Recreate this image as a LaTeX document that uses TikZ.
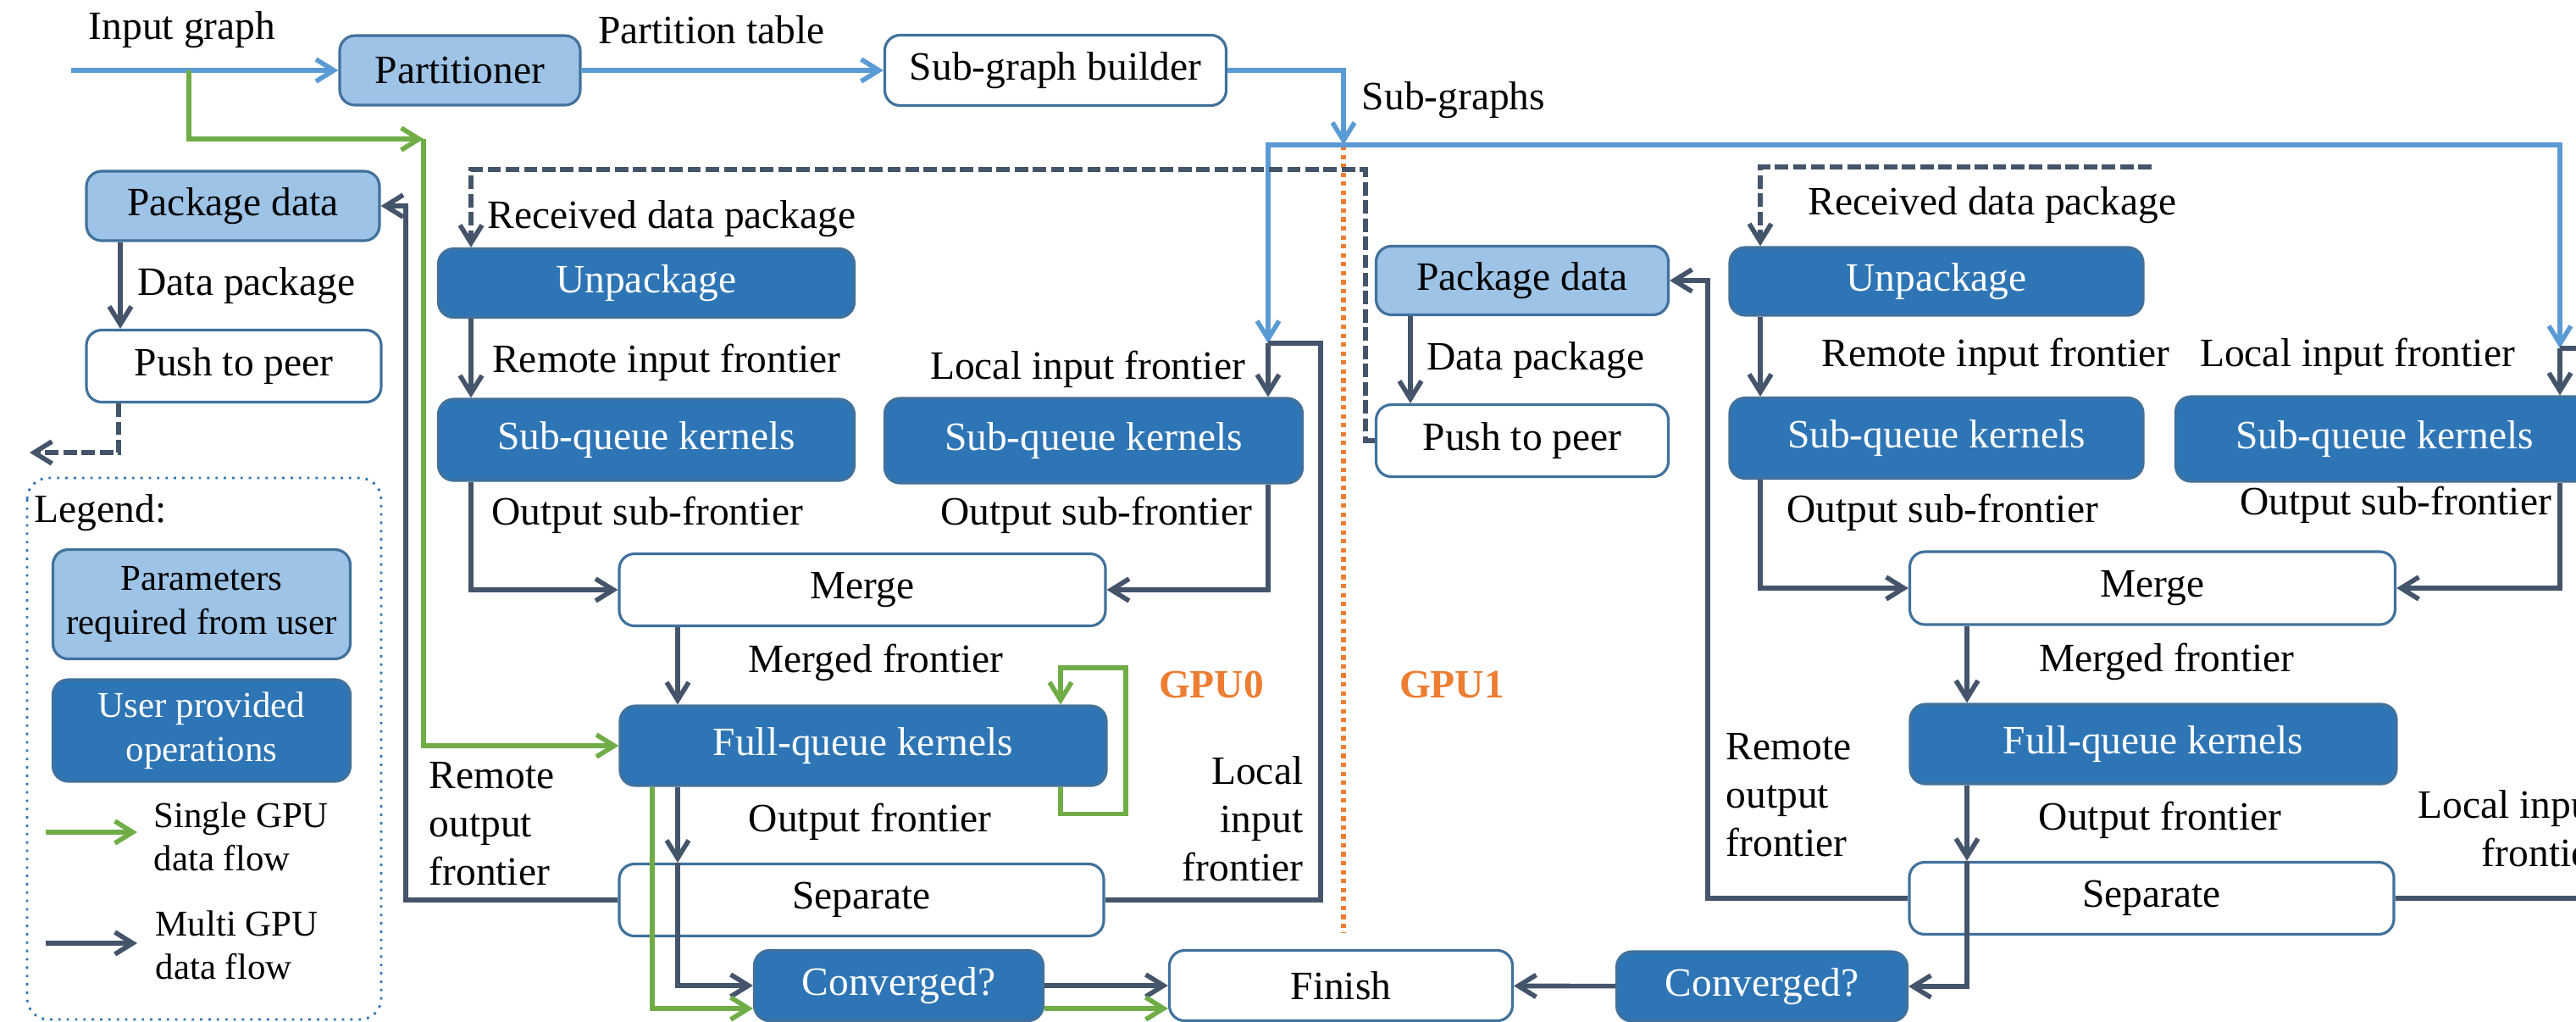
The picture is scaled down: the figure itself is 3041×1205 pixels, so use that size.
\documentclass[tikz,border=0pt]{standalone}
\usepackage{fontspec}
\setmainfont{Liberation Serif}
\usetikzlibrary{arrows.meta,calc,positioning}
\definecolor{lightfill}{HTML}{9DC3E6}
\definecolor{opfill}{HTML}{2E75B6}
\definecolor{boxedge}{HTML}{41719C}
\definecolor{slate}{HTML}{44546A}
\definecolor{flowblue}{HTML}{5B9BD5}
\definecolor{flowgreen}{HTML}{70AD47}
\definecolor{gpuorange}{HTML}{ED7D31}
\newcommand{\legfont}{\fontsize{12.2}{14.6}\selectfont}

\begin{document}
\begin{tikzpicture}[x=0.01cm,y=-0.01cm,
  every node/.style={font=\fontsize{13.5}{16.2}\selectfont},
  sz/.style 2 args={minimum width=#1*0.01cm,minimum height=#2*0.01cm},
  box/.style={draw=boxedge,line width=0.9pt,rounded corners=0.18cm,inner sep=0pt,align=center},
  parambox/.style={box,fill=lightfill},
  opbox/.style={box,fill=opfill,text=white},
  plainbox/.style={box,fill=white},
  lbl/.style={inner sep=0pt},
  tip/.style={-{Straight Barb[length=2.1mm,width=2.6mm]}},
  dline/.style={slate,line width=1.6pt},
  darr/.style={dline,tip},
  dasharr/.style={dline,tip,dash pattern=on 4.5pt off 1.6pt},
  bluearr/.style={flowblue,line width=1.6pt,tip},
  greenarr/.style={flowgreen,line width=1.6pt,tip},
  divider/.style={gpuorange,line width=1.5pt,dash pattern=on 1.5pt off 1.5pt},
  gpulabel/.style={font=\fontsize{13.5}{16.2}\selectfont\bfseries,text=gpuorange}]
  \useasboundingbox (0,0) rectangle (3041,1205);
  \clip (0,0) rectangle (3041,1205);

  \node[parambox,sz={284}{82}] (part) at (543,83) {Partitioner};
  \node[plainbox,sz={403}{83}] (builder) at (1246,83) {Sub-graph builder};
  \node (lblin) at (215,35) {Input graph};
  \node (lblpt) at (840,35) {Partition table};
  \node (lblsg) at (1716,118) {Sub-graphs};

  \node[parambox,sz={346}{82}] (pkg0) at (275,243) {Package data};
  \node[plainbox,sz={348}{85}] (push0) at (276,432) {Push to peer};
  \node[opbox,sz={491}{81}] (unp0) at (763,334) {Unpackage};
  \node[opbox,sz={491}{96}] (sqr0) at (763,519) {Sub-queue kernels};
  \node[opbox,sz={493}{100}] (sql0) at (1291,520) {Sub-queue kernels};
  \node[plainbox,sz={574}{85}] (merge0) at (1018,696) {Merge};
  \node[opbox,sz={574}{94}] (full0) at (1019,880) {Full-queue kernels};
  \node[plainbox,sz={572}{85}] (sep0) at (1017,1062) {Separate};
  \node[opbox,sz={341}{83}] (conv0) at (1061,1163) {Converged?};
  \node[plainbox,sz={405}{83}] (finish) at (1583,1163) {Finish};

  \node[parambox,sz={345}{81}] (pkg1) at (1797,331) {Package data};
  \node[plainbox,sz={345}{85}] (push1) at (1797,520) {Push to peer};
  \node[opbox,sz={488}{80}] (unp1) at (2286,332) {Unpackage};
  \node[opbox,sz={488}{95}] (sqr1) at (2286,517) {Sub-queue kernels};
  \node[opbox,sz={493}{100}] (sql1) at (2815,518) {Sub-queue kernels};
  \node[plainbox,sz={573}{86}] (merge1) at (2541,694) {Merge};
  \node[opbox,sz={574}{94}] (full1) at (2542,878) {Full-queue kernels};
  \node[plainbox,sz={572}{85}] (sep1) at (2540,1060) {Separate};
  \node[opbox,sz={343}{82}] (conv1) at (2080,1164) {Converged?};

  \node (lbldp0) at (291,337) {Data package};
  \node (lblrd0) at (793,258) {Received data package};
  \node (lblri0) at (787,428) {Remote input frontier};
  \node (lblli0) at (1284,436) {Local input frontier};
  \node (lblos0) at (764,608) {Output sub-frontier};
  \node (lblot0) at (1294,608) {Output sub-frontier};
  \node (lblmf0) at (1034,782) {Merged frontier};
  \node (lblof0) at (1027,970) {Output frontier};
  \node[lbl,anchor=west,align=left] (lblro0) at (506,972) {Remote\\output\\frontier};
  \node[lbl,anchor=east,align=right] (lbllo0) at (1539,966) {Local\\input\\frontier};
  \node[gpulabel] (gpu0) at (1430,808) {GPU0};
  \node[gpulabel] (gpu1) at (1714,808) {GPU1};

  \node (lbldp1) at (1813,425) {Data package};
  \node (lblrd1) at (2352,242) {Received data package};
  \node (lblri1) at (2356,421) {Remote input frontier};
  \node (lblli1) at (2783,421) {Local input frontier};
  \node (lblos1) at (2293,605) {Output sub-frontier};
  \node (lblot1) at (2828,596) {Output sub-frontier};
  \node (lblmf1) at (2558,781) {Merged frontier};
  \node (lblof1) at (2550,968) {Output frontier};
  \node[lbl,anchor=west,align=left] (lblro1) at (2037,938) {Remote\\output\\frontier};
  \node[lbl,anchor=east,align=right] (lbllo1) at (3073,978) {Local input\\frontier};

  \coordinate (gin) at (84,83);
  \coordinate (gsplit) at (223,83);
  \coordinate (gjoin) at (500,164);
  \coordinate (subg) at (1586,171);
  \coordinate (loc0) at (1497,405);
  \coordinate (loc1) at (3022,411);
  \coordinate (lret0) at (1559,405);
  \coordinate (lret1) at (3084,411);
  \coordinate (rret0) at (479,600);
  \coordinate (rret1) at (2016,600);
  \coordinate (col0) at (556,0);
  \coordinate (col1) at (2078,0);
  \coordinate (mid0) at (800,0);
  \coordinate (mid1) at (2322,0);
  \coordinate (gfall0) at (770,0);
  \coordinate (loop0) at (1252,0);
  \coordinate (loopr0) at (1329,788);
  \coordinate (pk0) at (142,0);
  \coordinate (pd0) at (140,0);
  \coordinate (pk1) at (1665,0);
  \coordinate (dk0) at (1612,200);
  \coordinate (dkin1) at (2540,197);
  \coordinate (out0) at (35,534);
  \coordinate (divtop) at (1586,172);
  \coordinate (divbot) at (1586,1101);

  \draw[divider] (divtop) -- (divbot);

  \draw[bluearr] (gin) -- (part);
  \draw[bluearr] (part) -- (builder);
  \draw[bluearr] (builder.east) -| (subg);
  \draw[bluearr] (subg) -| (loc0);
  \draw[bluearr] (subg) -| (loc1);
  \draw[greenarr] (gsplit) |- (gjoin);
  \draw[greenarr] (gjoin) |- (full0.west);

  \draw[dasharr] (push1.west) -| (dk0) -| (unp0.north -| col0);
  \draw[darr] (unp0.south -| col0) -- (sqr0.north -| col0);
  \draw[darr] (sqr0.south -| col0) |- (merge0.west);
  \draw[darr] (loc0) -- (sql0.north -| loc0);
  \draw[darr] (sql0.south -| loc0) |- (merge0.east);
  \draw[darr] (merge0.south -| mid0) -- (full0.north -| mid0);
  \draw[darr] (full0.south -| mid0) -- (sep0.north -| mid0);
  \draw[darr] (sep0.north -| mid0) |- (conv0.west);
  \draw[greenarr] (full0.south -| gfall0) |- ($(conv0.west)+(0,27)$);
  \draw[greenarr] (full0.south -| loop0) -- ++(0,32) -| (loopr0) -| (full0.north -| loop0);
  \draw[darr] (sep0.west) -| (rret0) |- (pkg0.east);
  \draw[dline] (sep0.east) -| (lret0) -- (loc0);
  \draw[darr] (pkg0.south -| pk0) -- (push0.north -| pk0);
  \draw[dasharr] (push0.south -| pd0) |- (out0);
  \draw[darr] (conv0) -- (finish);
  \draw[greenarr] ($(conv0.east)+(0,27)$) -- ($(finish.west)+(0,27)$);
  \draw[darr] (conv1) -- (finish);

  \draw[dasharr] (dkin1) -| (unp1.north -| col1);
  \draw[darr] (unp1.south -| col1) -- (sqr1.north -| col1);
  \draw[darr] (sqr1.south -| col1) |- (merge1.west);
  \draw[darr] (loc1) -- (sql1.north -| loc1);
  \draw[darr] (sql1.south -| loc1) |- (merge1.east);
  \draw[darr] (merge1.south -| mid1) -- (full1.north -| mid1);
  \draw[darr] (full1.south -| mid1) -- (sep1.north -| mid1);
  \draw[darr] (sep1.north -| mid1) |- (conv1.east);
  \draw[darr] (sep1.west) -| (rret1) |- (pkg1.east);
  \draw[dline] (sep1.east) -| (lret1) -- (loc1);
  \draw[darr] (pkg1.south -| pk1) -- (push1.north -| pk1);

  \draw[opfill,line width=0.8pt,dotted,rounded corners=0.25cm] (32,564) rectangle (450,1203);
  \node[lbl,anchor=west] (legtitle) at (40,605) {Legend:};
  \node[parambox,sz={351}{129},font=\legfont] (legparam) at (238,713) {Parameters\\required from user};
  \node[opbox,sz={351}{120},font=\legfont] (legop) at (238,862) {User provided\\operations};
  \coordinate (lgs0) at (54,982);
  \coordinate (lgs1) at (162,982);
  \coordinate (lgm0) at (54,1113);
  \coordinate (lgm1) at (162,1113);
  \draw[greenarr] (lgs0) -- (lgs1);
  \draw[darr] (lgm0) -- (lgm1);
  \node[lbl,anchor=west,align=left,font=\legfont] (legsingle) at (181,987) {Single GPU\\data flow};
  \node[lbl,anchor=west,align=left,font=\legfont] (legmulti) at (183,1115) {Multi GPU\\data flow};
\end{tikzpicture}
\end{document}
